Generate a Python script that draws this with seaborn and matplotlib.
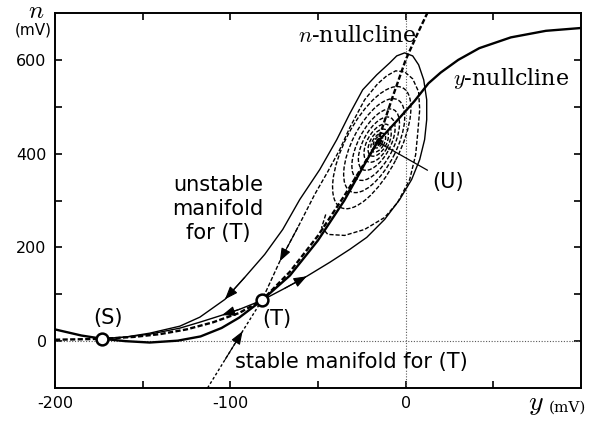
import matplotlib
matplotlib.use("Agg")
import matplotlib.pyplot as plt
import seaborn as sns
import numpy as np
from matplotlib.patches import Ellipse
from matplotlib.transforms import Affine2D

# ---------------- data ----------------
# fixed points
S_pt = (-173.0, 5.0)
T_pt = (-82.0, 87.0)
U_pt = (-16.0, 425.0)

# y-nullcline (thick solid)
ynull_x = [-200, -185, -173, -160, -146, -130, -117, -105, -95, -82, -66, -50,
           -35, -22, -16, -5, 5, 13, 20, 30, 42, 60, 80, 100]
ynull_n = [25, 12, 5, 0, -3, 1, 10, 28, 50, 87, 140, 215, 300, 387, 425, 470,
           512, 550, 573, 600, 625, 648, 662, 668]

# n-nullcline (thick dashed)
nnull_x = [-200, -185, -173, -155, -140, -125, -110, -95, -82, -66, -50, -35,
           -16, -8, 0, 6, 13]
nnull_n = [3, 4, 5, 9, 15, 25, 40, 60, 87, 148, 225, 310, 425, 515, 600, 650, 705]

# unstable manifold of (T): branch that loops round (U) and returns to (S)
uloop_x = [-82.0, -68.9, -56.4, -43.3, -31.9, -22.2, -12.0, -3.4, 3.4, 8.0,
           10.8, 12.0, 12.0, 10.3, 7.4, 4.0, -0.6, -5.1, -9.1, -16.5, -24.5,
           -31.9, -39.3, -49.0, -60.4, -70.1, -80.4, -91.8, -103.1, -117.4,
           -128.8, -145.9, -160.1, -173.0]
uloop_n = [87.0, 112.8, 138.3, 168.1, 195.7, 221.3, 259.6, 302.1, 344.7, 387.2,
           429.8, 472.3, 514.9, 557.4, 589.4, 608.5, 614.9, 608.5, 593.6, 568.1,
           536.2, 485.1, 429.8, 366.0, 302.1, 238.3, 185.0, 136.0, 89.0, 51.1,
           31.9, 17.0, 8.5, 5.0]

# unstable manifold of (T): direct branch to (S)
uleft_x = [-82.0, -94.6, -104.8, -117.4, -128.8, -145.9, -160.1, -173.0]
uleft_n = [87.0, 68.1, 55.3, 40.4, 27.7, 14.9, 8.5, 5.0]

# stable manifold of (T): lower branch
slow_x = [-113.0, -103.0, -93.0, -82.0]
slow_n = [-100.0, -39.4, 21.2, 87.0]

# stable manifold of (T): upper branch (outer turn of the spiral out of (U))
sup_x = [-45.6, -47.9, -44.4, -34.8, -23.4, -12.0, -4.6, 2.3, 5.7, 6.8, 8.0,
         7.4, 4.0, -0.6, -5.7, -10.8, -16.0, -23.4, -31.9, -37.6, -44.4,
         -51.9, -61.5, -71.8, -82.0]
sup_n = [270.2, 242.6, 227.7, 225.5, 238.3, 263.8, 295.7, 344.7, 397.9, 440.4,
         493.6, 531.9, 559.6, 574.5, 576.6, 566.0, 548.9, 514.9, 455.3, 408.5,
         361.7, 312.8, 242.6, 170.2, 87.0]

# inner turns of the spiral round (U): lower end, upper end, width (x units)
loop_lo_x = [-37.0, -31.3, -27.4, -24.5, -21.7, -19.9, -18.8, -17.7, -17.1,
             -16.5, -16.2]
loop_lo_n = [285.1, 319.1, 344.7, 366.0, 383.0, 395.7, 404.3, 412.8, 417.0,
             419.1, 421.3]
loop_hi_x = [-1.7, -4.6, -6.8, -8.5, -10.3, -11.4, -12.5, -13.7, -14.2,
             -14.8, -15.4]
loop_hi_n = [540.4, 514.9, 493.6, 476.6, 461.7, 451.1, 442.6, 436.2, 431.9,
             429.8, 427.7]
loop_w = [30.8, 25.1, 19.9, 15.4, 12.0, 9.1, 6.6, 4.6, 2.8, 2.0, 1.2]

# ---------------- style ----------------
sns.set_style("ticks")
plt.rcParams['font.family'] = ['DejaVu Sans']
plt.rcParams['mathtext.fontset'] = 'cm'
plt.rcParams['axes.unicode_minus'] = False
for k in ('text.color', 'xtick.color', 'ytick.color', 'axes.edgecolor',
          'axes.labelcolor'):
    plt.rcParams[k] = 'black'

FW, FH = 601, 421
fig = plt.figure(figsize=(FW / 100, FH / 100), dpi=100)
ax = fig.add_axes([55 / FW, 33 / FH, 526 / FW, 375 / FH])
ax.set_xlim(-200, 100)
ax.set_ylim(-100, 700)

# reference lines
ax.axvline(0, color='0.35', lw=0.8, ls=(0, (1, 1.5)), zorder=1)
ax.axhline(0, color='0.35', lw=0.8, ls=(0, (1, 1.5)), zorder=1)

def line(xs, ns, lw, ls='-'):
    sns.lineplot(x=xs, y=ns, sort=False, estimator=None, ax=ax, color='black',
                 lw=lw, linestyle=ls, zorder=3)

line(ynull_x, ynull_n, 1.7)
line(nnull_x, nnull_n, 1.7, (0, (2.2, 1.0)))
line(uloop_x, uloop_n, 1.0)
line(uleft_x, uleft_n, 1.0)
line(slow_x, slow_n, 1.0, (0, (2.0, 1.6)))
line(sup_x, sup_n, 1.0, (0, (3.0, 1.4)))

# spiral turns as nested loops (in a visually isotropic frame)
bb = ax.get_position()
w_px, h_px = bb.width * FW, bb.height * FH
ISO = (w_px / 300.0) * (800.0 / h_px)
iso_tr = Affine2D().scale(1, ISO) + ax.transData
for x1, n1, x2, n2, w in zip(loop_lo_x, loop_lo_n, loop_hi_x, loop_hi_n, loop_w):
    a1, b1, a2, b2 = x1, n1 / ISO, x2, n2 / ISO
    L = np.hypot(a2 - a1, b2 - b1)
    ang = np.degrees(np.arctan2(b2 - b1, a2 - a1))
    e = Ellipse(((a1 + a2) / 2, (b1 + b2) / 2), L, w, angle=ang,
                transform=iso_tr, fill=False, ec='black', lw=1.0,
                ls=(0, (3.0, 1.4)), zorder=3)
    ax.add_patch(e)

# arrowheads along the curves
def arrow(xs, ns, i):
    ax.annotate('', xy=(xs[i], ns[i]), xytext=(xs[i - 1], ns[i - 1]),
                arrowprops=dict(arrowstyle='-|>,head_length=0.8,head_width=0.3',
                                color='black', lw=0.8, shrinkA=0, shrinkB=0,
                                mutation_scale=10), zorder=4)

arrow(uloop_x, uloop_n, 2)
arrow(uloop_x, uloop_n, 28)
arrow(uleft_x, uleft_n, 2)
arrow(slow_x, slow_n, 2)
arrow(sup_x, sup_n, 23)

# fixed points
for p in (S_pt, T_pt):
    ax.plot([p[0]], [p[1]], marker='o', ms=8.5, mfc='white', mec='black',
            mew=1.8, zorder=5)

# ticks
ax.set_xticks([-200, -100, 0])
ax.set_xticks([-150, -50, 50], minor=True)
ax.set_yticks([0, 200, 400, 600])
ax.set_yticks([100, 300, 500], minor=True)
ax.tick_params(which='both', direction='in', top=True, right=True, length=5,
               width=1.2, labelsize=11.5, pad=6, colors='black')
for s in ax.spines.values():
    s.set_linewidth(1.4)
    s.set_visible(True)
    s.set_color('black')

# annotations
TS = 15
ax.text(-107, 281, "unstable\nmanifold\nfor (T)", ha='center', va='center',
        fontsize=TS, linespacing=1.25)
ax.text(-170, 49, "(S)", ha='center', va='center', fontsize=TS)
ax.text(-73.5, 47, "(T)", ha='center', va='center', fontsize=TS)
ax.text(-97.5, -45, "stable manifold for (T)", ha='left', va='center', fontsize=TS)
ax.annotate("(U)", xy=U_pt, xytext=(15, 340), ha='left', va='center',
            fontsize=TS,
            arrowprops=dict(arrowstyle='-', lw=0.9, color='black',
                            shrinkA=1, shrinkB=0))
ax.text(-61.5, 652, r"$n$" + "-nullcline", ha='left', va='center',
        fontsize=16, family='DejaVu Serif')
ax.text(27, 560, r"$y$" + "-nullcline", ha='left', va='center',
        fontsize=16, family='DejaVu Serif')

fig.text(36 / FW, 1 - 11 / FH, r"$n$", ha='center', va='center', fontsize=18)
fig.text(33 / FW, 1 - 30 / FH, "(mV)", ha='center', va='center', fontsize=11)
fig.text(536 / FW, 1 - 410 / FH, r"$y$", ha='center', va='baseline', fontsize=20)
fig.text(567 / FW, 1 - 412 / FH, "(mV)", ha='center', va='baseline', fontsize=11,
         family='DejaVu Serif')

fig.savefig("out.png", dpi=100)
